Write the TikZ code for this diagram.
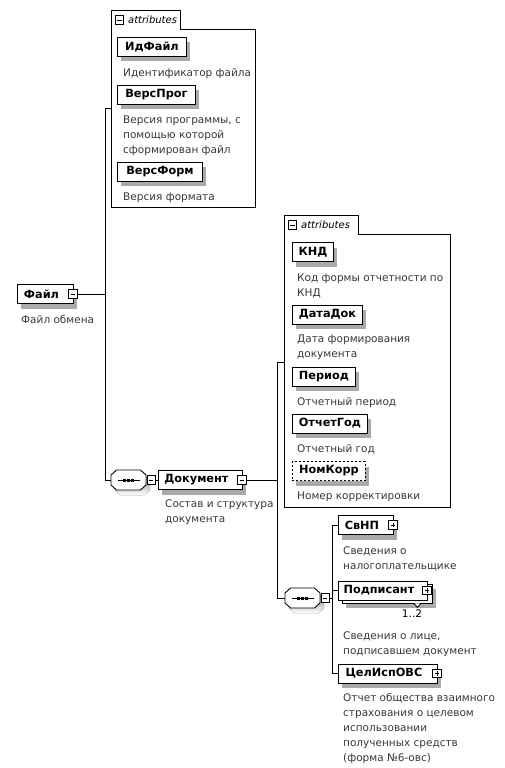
\documentclass[tikz,border=0pt]{standalone}
\usepackage{fontspec}
\setmainfont{DejaVu Sans}
\usetikzlibrary{positioning,calc,shadows}
\definecolor{ink}{RGB}{0,0,0}
\definecolor{desctext}{RGB}{55,55,55}
\definecolor{shade}{RGB}{170,170,170}
\tikzset{
  elbase/.style={draw=ink,line width=0.9pt,fill=white,inner sep=0pt,anchor=west,
    minimum height=19pt,minimum width=#1,font=\fontsize{11.3}{13}\selectfont\bfseries},
  elem/.style={elbase=#1,drop shadow={shadow xshift=4pt,shadow yshift=-5pt,fill=shade,opacity=1}},
  optional/.style={dash pattern=on 2pt off 2pt},
  iconed/.style={execute at end node=\kern8pt},
  descr/.style={anchor=north west,inner sep=0pt,align=left,text=desctext,
    font=\fontsize{10.5}{15}\selectfont},
  frame/.style={draw=ink,line width=0.9pt},
  tabtext/.style={inner sep=0pt,font=\fontsize{10}{12}\selectfont\itshape},
  link/.style={draw=ink,line width=0.9pt},
  seqbox/.style={minimum width=35pt,minimum height=20pt,inner sep=0pt},
  minusbox/.style={draw=ink,line width=0.8pt,fill=white,minimum size=8.5pt,inner sep=0pt,
    path picture={\draw[line width=0.8pt] ([xshift=2pt]path picture bounding box.west)
      -- ([xshift=-2pt]path picture bounding box.east);}},
  plusbox/.style={draw=ink,line width=0.8pt,fill=white,minimum size=8.5pt,inner sep=0pt,
    path picture={\draw[line width=0.8pt] ([xshift=2pt]path picture bounding box.west)
      -- ([xshift=-2pt]path picture bounding box.east)
      ([yshift=-2pt]path picture bounding box.north)
      -- ([yshift=2pt]path picture bounding box.south);}},
}

\begin{document}
\begin{tikzpicture}[x=1pt,y=-1pt]
\useasboundingbox (0,0) rectangle (505,768);

% root element
\node[elem=56pt,iconed] (file) at (17,294) {Файл};
\node[minusbox] (fileM) at ([xshift=-1pt]file.east) {};
\node[descr] (fileD) at (21,312.5) {\strut Файл обмена};

% attributes of Файл
\node[minimum width=143pt,minimum height=177pt,inner sep=0pt] (attrA) at (183.5,118.5) {};
\node[minimum width=68pt,minimum height=19pt,inner sep=0pt,anchor=south west] (tabA) at (attrA.north west) {};
\draw[frame] (attrA.south west) -- (tabA.north west) -- (tabA.north east) -- (tabA.south east)
  -- (attrA.north east) -- (attrA.south east) -- cycle;
\node[minusbox] (tabAm) at ([xshift=7.5pt]tabA.west) {};
\node[tabtext,right=4pt of tabAm] {attributes};

\node[elem=69pt] (idf) at (117,46.5) {ИдФайл};
\node[descr] at (123,65.5) {\strut Идентификатор файла};
\node[elem=78pt] (vprog) at (117,94.5) {ВерсПрог};
\node[descr] at (123,112.5) {\strut Версия программы, с\\помощью которой\\сформирован файл};
\node[elem=85pt] (vform) at (117,171.5) {ВерсФорм};
\node[descr] at (123,189.5) {\strut Версия формата};

% sequence -> Документ
\node[seqbox] (seqA) at (128.5,480) {};
\node[elem=84pt,iconed] (doc) at (158,480) {Документ};
\node[minusbox] (docM) at ([xshift=-1pt]doc.east) {};
\node[descr] at (165,496.5) {\strut Состав и структура\\документа};

% attributes of Документ
\node[minimum width=165pt,minimum height=272pt,inner sep=0pt] (attrB) at (367.5,371) {};
\node[minimum width=73pt,minimum height=19pt,inner sep=0pt,anchor=south west] (tabB) at (attrB.north west) {};
\draw[frame] (attrB.south west) -- (tabB.north west) -- (tabB.north east) -- (tabB.south east)
  -- (attrB.north east) -- (attrB.south east) -- cycle;
\node[minusbox] (tabBm) at ([xshift=7.5pt]tabB.west) {};
\node[tabtext,right=4pt of tabBm] {attributes};

\node[elem=41pt] (knd) at (292,252) {КНД};
\node[descr] at (297,270.5) {\strut Код формы отчетности по\\КНД};
\node[elem=70pt] (datadoc) at (292,314.5) {ДатаДок};
\node[descr] at (297,331.5) {\strut Дата формирования\\документа};
\node[elem=63pt] (period) at (292,376.5) {Период};
\node[descr] at (297,394.5) {\strut Отчетный период};
\node[elem=75pt] (otchgod) at (292,423.5) {ОтчетГод};
\node[descr] at (297,441.5) {\strut Отчетный год};
\node[elem=73pt,optional] (nomkorr) at (292,471) {НомКорр};
\node[descr] at (297,488.5) {\strut Номер корректировки};

% sequence of child elements
\node[seqbox] (seqB) at (302.5,598) {};

\node[elem=55pt,iconed] (svnp) at (338,525) {СвНП};
\node[plusbox] (svnpP) at ([xshift=-1pt]svnp.east) {};
\node[descr] at (343,543.5) {\strut Сведения о\\налогоплательщике};

\node[elem=90pt] (podpB) at (342,593.5) {};
\node[elbase=89pt,iconed] (podp) at (338,590.5) {Подписант};
\node[plusbox] (podpP) at ([xshift=-1pt]podp.east) {};
\draw[frame,fill=white] ([xshift=-19pt]podpB.south east) -- ++(3.5,4) -- ++(3.5,-4);
\node[inner sep=0pt,anchor=base,font=\fontsize{10.5}{13}\selectfont] (podpN) at (412,617) {1..2};
\node[descr] at (343,628.5) {\strut Сведения о лице,\\подписавшем документ};

\node[elem=99pt,iconed] (cel) at (338,673.5) {ЦелИспОВС};
\node[plusbox] (celP) at ([xshift=-1pt]cel.east) {};
\node[descr] at (343,690.5) {\strut Отчет общества взаимного\\страхования о целевом\\использовании\\полученных средств\\(форма №6-овс)};

% sequence compositors: octagon with shadow, dots, collapse box
\foreach \s in {seqA,seqB} {
  \fill[shade,shift={(\s.center)},xshift=4pt,yshift=-5pt] (-12,-10) -- (12,-10) -- (17.5,-5)
    -- (17.5,5) -- (12,10) -- (-12,10) -- (-17.5,5) -- (-17.5,-5) -- cycle;
  \draw[frame,fill=white,shift={(\s.center)}] (-12,-10) -- (12,-10) -- (17.5,-5)
    -- (17.5,5) -- (12,10) -- (-12,10) -- (-17.5,5) -- (-17.5,-5) -- cycle;
  \draw[line width=1pt] ($(\s.center)+(-11,0)$) -- ($(\s.center)+(11,0)$);
  \foreach \d in {-4,0,4}
    \fill ($(\s.center)+(\d-1.5,-1.5)$) rectangle ($(\s.center)+(\d+1.5,1.5)$);
  \node[minusbox] (\s m) at ($(\s.east)+(5,0)$) {};
}

% connectors
\coordinate (trunkA) at (105,108);
\coordinate (trunkB) at (277,362);
\coordinate (trunkC) at (332,525);
\draw[link] (trunkA -| attrA.west) -- (trunkA) |- (seqA.west);
\draw[link] (fileM.east) -- (fileM.east -| trunkA);
\draw[link] (seqAm.east) -- (doc.west);
\draw[link] (trunkB -| attrB.west) -- (trunkB) |- (seqB.west);
\draw[link] (docM.east) -- (docM.east -| trunkB);
\draw[link] (seqBm.east) -- (seqBm.east -| trunkC);
\draw[link] (svnp.west) -- (svnp.west -| trunkC) |- (cel.west);
\draw[link] (podp.west) -- (podp.west -| trunkC);
\end{tikzpicture}
\end{document}
